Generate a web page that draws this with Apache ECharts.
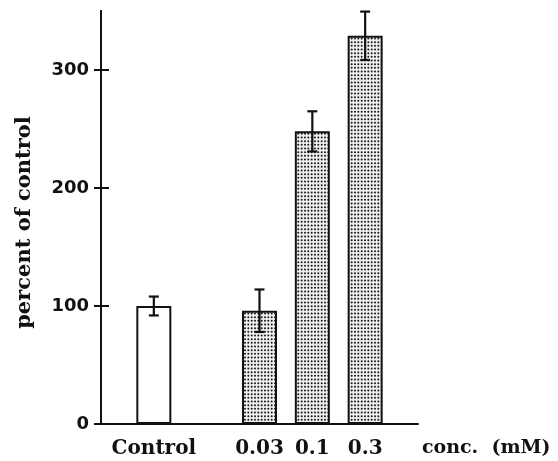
<!DOCTYPE html>
<html>
<head>
<meta charset="utf-8">
<script src="https://cdn.jsdelivr.net/npm/echarts@6/dist/echarts.min.js"></script>
<style>
html,body{margin:0;padding:0;background:#fff;}
#chart{width:558px;height:461px;}
</style>
</head>
<body>
<div id="chart"></div>
<script>
// Category slots (blank slots keep the gap seen in the original)
var categories = ['', 'Control', '', '0.03', '0.1', '0.3', ''];
var barValues = [null, 100, null, 96, 248, 329, null];
var errValues = [null, 8, null, 18, 17, 20.5, null];
var yTicks = [0, 100, 200, 300];

// dotted (stipple) fill pattern
var pc = document.createElement('canvas');
pc.width = 10; pc.height = 11;
var pctx = pc.getContext('2d');
pctx.fillStyle = '#eeeeee';
pctx.fillRect(0, 0, 10, 11);
pctx.fillStyle = '#1a1a1a';
[1.7, 5.0, 8.3].forEach(function (x) {
  [1.8, 5.5, 9.2].forEach(function (y) {
    pctx.beginPath();
    pctx.arc(x, y, 1.0, 0, Math.PI * 2);
    pctx.fill();
  });
});
var pattern = { image: pc, repeat: 'repeat' };

var barData = barValues.map(function (v, i) {
  if (v === null) return null;
  return {
    value: v,
    itemStyle: {
      color: categories[i] === 'Control' ? '#ffffff' : pattern,
      borderColor: '#111',
      borderWidth: 2
    }
  };
});

var errData = [];
barValues.forEach(function (v, i) {
  if (v !== null) errData.push([i, v - errValues[i], v + errValues[i]]);
});

var serifFont = '"DejaVu Serif", serif';

var chart = echarts.init(document.getElementById('chart'), null, { renderer: 'canvas' });
chart.setOption({
  animation: false,
  backgroundColor: '#ffffff',
  grid: { left: 101, right: 140, top: 11, bottom: 37, containLabel: false },
  xAxis: {
    type: 'category',
    data: categories,
    boundaryGap: false,
    axisLine: { lineStyle: { color: '#111', width: 2 } },
    axisTick: { show: false },
    axisLabel: {
      interval: 0,
      margin: 15,
      color: '#111',
      fontFamily: serifFont,
      fontWeight: 'bold',
      fontSize: 20
    },
    name: 'conc.  (mM)',
    nameLocation: 'end',
    nameGap: 4,
    nameTextStyle: {
      color: '#111',
      fontFamily: serifFont,
      fontWeight: 'bold',
      fontSize: 19,
      verticalAlign: 'top',
      padding: [15, 0, 0, 0]
    }
  },
  yAxis: [{
    type: 'value',
    min: 0,
    max: 350,
    interval: 100,
    splitLine: { show: false },
    axisLine: { show: true, lineStyle: { color: '#111', width: 2 } },
    axisTick: { show: true, inside: false, length: 7, lineStyle: { color: '#111', width: 2 }, customValues: yTicks },
    axisLabel: {
      customValues: yTicks,
      margin: 12,
      color: '#111',
      fontFamily: '"DejaVu Sans", sans-serif',
      fontWeight: 'bold',
      fontSize: 18
    },
    name: 'percent of control',
    nameLocation: 'middle',
    nameGap: 66,
    nameRotate: 90,
    nameTextStyle: {
      color: '#111',
      fontFamily: serifFont,
      fontWeight: 'bold',
      fontSize: 21,
      padding: [0, 10, 0, 0]
    }
  }, {
    type: 'value',
    min: 0,
    max: 350,
    interval: 100,
    position: 'left',
    splitLine: { show: false },
    axisLine: { show: true, lineStyle: { color: '#111', width: 2 } },
    axisTick: { show: true, inside: true, length: 8, lineStyle: { color: '#111', width: 2 }, customValues: [100, 200, 300] },
    axisLabel: { show: false, customValues: [100, 200, 300] }
  }],
  series: [{
    type: 'bar',
    data: barData,
    barWidth: 35,
    z: 2
  }, {
    type: 'custom',
    data: errData,
    z: 3,
    renderItem: function (params, api) {
      var i = api.value(0);
      var lo = api.coord([i, api.value(1)]);
      var hi = api.coord([i, api.value(2)]);
      var cap = 5;
      var style = { stroke: '#111', lineWidth: 2.2 };
      return {
        type: 'group',
        children: [
          { type: 'line', shape: { x1: lo[0], y1: lo[1], x2: hi[0], y2: hi[1] }, style: style },
          { type: 'line', shape: { x1: hi[0] - cap, y1: hi[1], x2: hi[0] + cap, y2: hi[1] }, style: style },
          { type: 'line', shape: { x1: lo[0] - cap, y1: lo[1], x2: lo[0] + cap, y2: lo[1] }, style: style }
        ]
      };
    }
  }]
});
</script>
</body>
</html>
